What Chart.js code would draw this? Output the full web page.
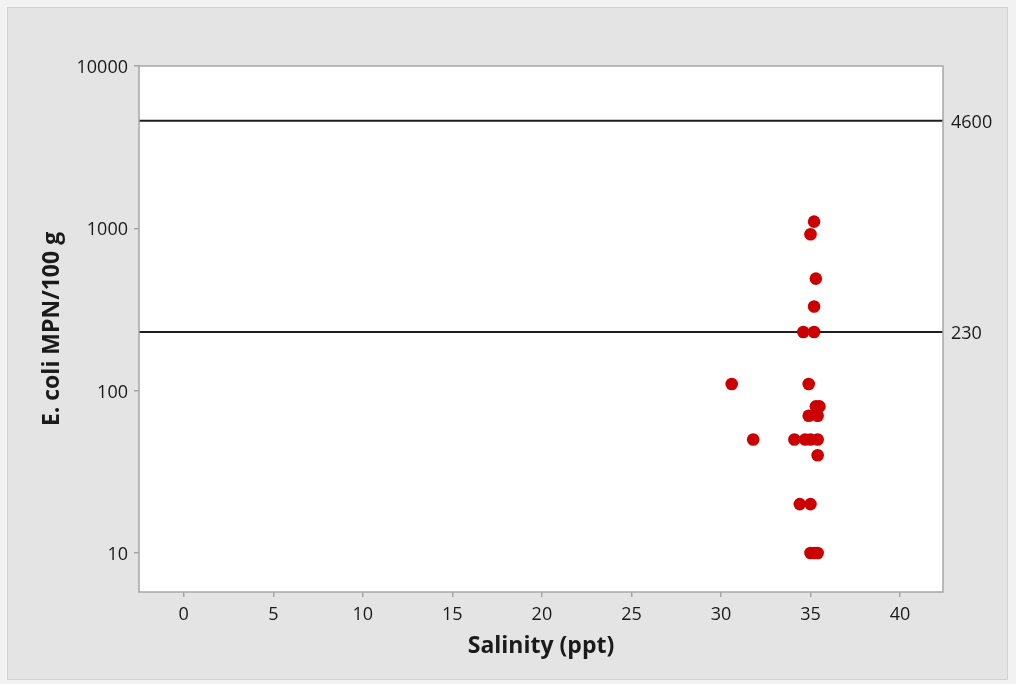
<!DOCTYPE html>
<html>
<head>
<meta charset="utf-8">
<title>E. coli vs Salinity</title>
<script src="https://cdn.jsdelivr.net/npm/chart.js@4.4.1/dist/chart.umd.min.js"></script>
<style>
  html, body { margin: 0; padding: 0; background: #f2f2f2; }
  #wrap { width: 1016px; height: 684px; position: relative; }
</style>
</head>
<body>
<div id="wrap"><canvas id="scatterChart" width="1016" height="684"></canvas></div>
<script>
// Data
var salinity = [35.2, 35.0, 35.3, 35.2, 34.6, 35.2, 30.6, 34.9, 35.3, 35.5, 34.9, 35.4,
                31.8, 34.1, 34.7, 35.0, 35.4, 35.4, 34.4, 35.0, 35.0, 35.2, 35.4];
var ecoli = [1100, 920, 490, 330, 230, 230, 110, 110, 80, 80, 70, 70,
             50, 50, 50, 50, 50, 40, 20, 20, 10, 10, 10];
var refLines = [230, 4600];
var xTicks = [0, 5, 10, 15, 20, 25, 30, 35, 40];
var yTicks = [10, 100, 1000, 10000];
var xRange = [-2.5, 42.4];
var yRange = [5.75, 10000];

window.onload = () => {
   renderScatter();
};

// Draws the grey frame and the white plot box behind everything
var framePlugin = {
   id: 'frame',
   beforeDraw(chart) {
       var c = chart.ctx;
       var a = chart.chartArea;
       c.save();
       c.fillStyle = '#f2f2f2';
       c.fillRect(0, 0, chart.width, chart.height);
       c.fillStyle = '#e4e4e4';
       c.fillRect(7, 7, 1001, 673);
       c.strokeStyle = '#d2d2d2';
       c.lineWidth = 1;
       c.strokeRect(7.5, 7.5, 1000, 672);
       c.fillStyle = '#ffffff';
       c.fillRect(a.left, a.top, a.right - a.left, a.bottom - a.top);
       c.restore();
   },
   afterDraw(chart) {
       var c = chart.ctx;
       var a = chart.chartArea;
       c.save();
       c.strokeStyle = '#a6a6a6';
       c.lineWidth = 1.5;
       c.strokeRect(a.left, a.top, a.right - a.left, a.bottom - a.top);
       c.restore();
   }
};

function renderScatter() {
   var ctx = document.getElementById('scatterChart').getContext('2d');

   var points = salinity.map((s, i) => ({ x: s, y: ecoli[i] }));

   // horizontal reference lines across the full x range
   var lineSets = refLines.map(v => ({
       type: 'line',
       data: [{ x: xRange[0], y: v }, { x: xRange[1], y: v }],
       borderColor: '#1f1f1f',
       borderWidth: 2,
       pointRadius: 0,
       fill: false,
       order: 2
   }));

   var tickFont = { family: 'Open Sans', size: 18 };
   var titleFont = { family: 'Open Sans', size: 23, weight: 'bold' };

   new Chart(ctx, {
       type: 'scatter',
       data: {
           datasets: [{
               data: points,
               backgroundColor: '#cc0000',
               borderWidth: 0,
               pointRadius: 6.3,
               order: 1
           }].concat(lineSets)
       },
       options: {
           responsive: false,
           animation: false,
           plugins: { legend: { display: false }, tooltip: { enabled: false } },
           layout: { padding: { top: 66, left: 0, right: 0, bottom: 0 } },
           scales: {
               x: {
                   type: 'linear',
                   min: xRange[0],
                   max: xRange[1],
                   afterBuildTicks: s => { s.ticks = xTicks.map(v => ({ value: v })); },
                   afterFit: s => { s.height = 92; },
                   border: { display: false },
                   grid: { drawOnChartArea: false, tickLength: 5, color: '#a6a6a6', lineWidth: 1.5 },
                   ticks: { padding: 7, color: '#1a1a1a', font: tickFont },
                   title: {
                       display: true,
                       text: 'Salinity (ppt)',
                       color: '#1a1a1a',
                       font: titleFont,
                       padding: { top: 0, bottom: 24 }
                   }
               },
               y: {
                   type: 'logarithmic',
                   position: 'left',
                   min: yRange[0],
                   max: yRange[1],
                   afterBuildTicks: s => { s.ticks = yTicks.map(v => ({ value: v })); },
                   afterFit: s => { s.width = 139; },
                   border: { display: false },
                   grid: { drawOnChartArea: false, tickLength: 5, color: '#a6a6a6', lineWidth: 1.5 },
                   ticks: { padding: 6, labelOffset: 2, color: '#1a1a1a', font: tickFont, callback: v => String(v) },
                   title: {
                       display: true,
                       text: 'E. coli MPN/100 g',
                       color: '#1a1a1a',
                       font: titleFont,
                       padding: { top: 39, bottom: 0 }
                   }
               },
               y2: {
                   type: 'logarithmic',
                   position: 'right',
                   min: yRange[0],
                   max: yRange[1],
                   afterBuildTicks: s => { s.ticks = refLines.map(v => ({ value: v })); },
                   afterFit: s => { s.width = 73; },
                   border: { display: false },
                   grid: { display: false },
                   ticks: { padding: 0, labelOffset: 2, color: '#1a1a1a', font: tickFont, callback: v => String(v) }
               }
           }
       },
       plugins: [framePlugin]
   });
}
</script>
</body>
</html>
